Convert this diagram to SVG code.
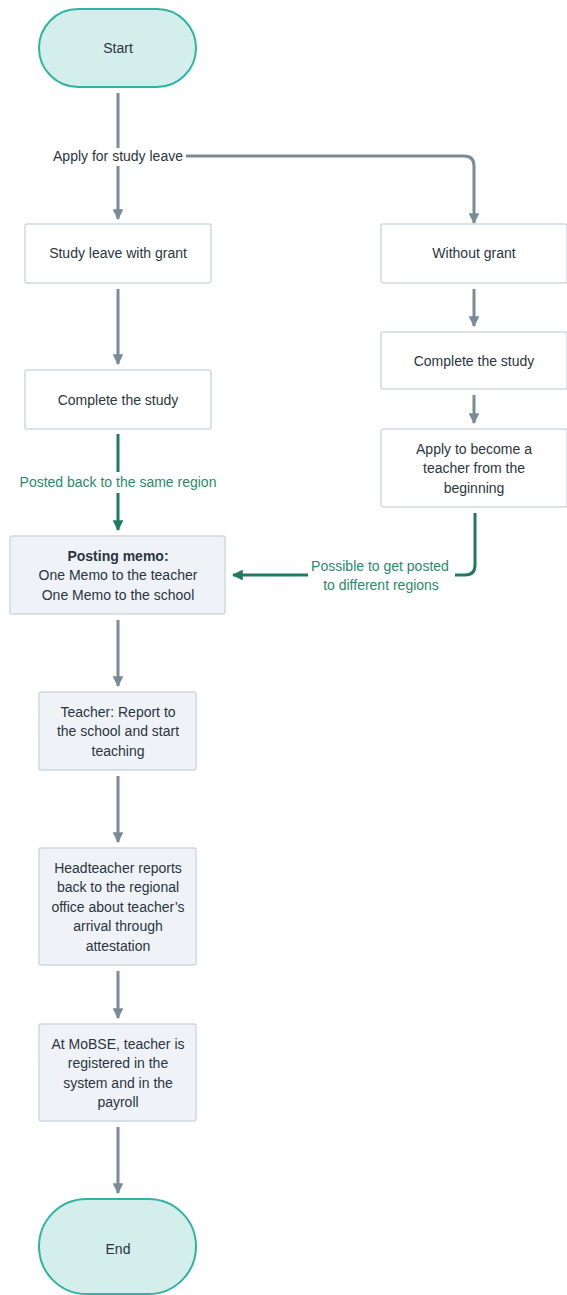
<svg xmlns="http://www.w3.org/2000/svg" width="567" height="1295" viewBox="0 0 567 1295">
  <style>
    text { font-family: "Liberation Sans", Arial, sans-serif; font-size: 14px; fill: #2b3540; text-anchor: middle; }
    .pill { fill: #d3eeeb; stroke: #2fb3a2; stroke-width: 2; }
    .box { fill: #ffffff; stroke: #cfd8e1; stroke-width: 1.5; }
    .gbox { fill: #eff3f7; stroke: #cfd8e1; stroke-width: 1.5; }
    .ln { fill: none; stroke: #7b8a99; stroke-width: 3; }
    .gln { fill: none; stroke: #217a5f; stroke-width: 3; }
    .glbl { fill: #2a8a6b; }
  </style>
  <defs>
    <marker id="ah" viewBox="0 0 10 10" refX="9" refY="5" markerWidth="3.6" markerHeight="3.6" orient="auto" markerUnits="strokeWidth">
      <path d="M0,0 L10,5 L0,10 z" fill="#7b8a99"/>
    </marker>
    <marker id="ahg" viewBox="0 0 10 10" refX="9" refY="5" markerWidth="3.6" markerHeight="3.6" orient="auto" markerUnits="strokeWidth">
      <path d="M0,0 L10,5 L0,10 z" fill="#217a5f"/>
    </marker>
  </defs>

  <!-- connectors -->
  <g id="connectors">
    <path class="ln" d="M118,93 V148"/>
    <path class="ln" d="M118,166 V219" marker-end="url(#ah)"/>
    <path class="ln" d="M186,156 H464 Q474,156 474,166 V223" marker-end="url(#ah)"/>
    <path class="ln" d="M118,289 V364" marker-end="url(#ah)"/>
    <path class="ln" d="M474,289 V326" marker-end="url(#ah)"/>
    <path class="ln" d="M474,395 V423" marker-end="url(#ah)"/>
    <path class="gln" d="M118,434 V472"/>
    <path class="gln" d="M118,493 V530" marker-end="url(#ahg)"/>
    <text class="glbl" x="118" y="487">Posted back to the same region</text>
    <path class="gln" d="M475,513 V565 Q475,575 465,575 H455"/>
    <path class="gln" d="M308,575 H233" marker-end="url(#ahg)"/>
    <text class="glbl" x="380" y="571">Possible to get posted</text>
    <text class="glbl" x="381" y="590">to different regions</text>
    <text x="118" y="161">Apply for study leave</text>
    <path class="ln" d="M118,620 V686" marker-end="url(#ah)"/>
    <path class="ln" d="M118,776 V842" marker-end="url(#ah)"/>
    <path class="ln" d="M118,971 V1018" marker-end="url(#ah)"/>
    <path class="ln" d="M118,1127 V1193" marker-end="url(#ah)"/>
  </g>

  <g id="start">
    <rect class="pill" x="39" y="9" width="157" height="78" rx="39"/>
    <text x="118" y="53">Start</text>
  </g>

  <g id="with-grant">
    <rect class="box" x="25" y="224" width="186" height="59" rx="2"/>
    <text x="118" y="258">Study leave with grant</text>
  </g>

  <g id="without-grant">
    <rect class="box" x="381" y="224" width="186" height="59" rx="2"/>
    <text x="474" y="258">Without grant</text>
  </g>

  <g id="complete-left">
    <rect class="box" x="25" y="370" width="186" height="59" rx="2"/>
    <text x="118" y="405">Complete the study</text>
  </g>

  <g id="complete-right">
    <rect class="box" x="381" y="332" width="186" height="57" rx="2"/>
    <text x="474" y="366">Complete the study</text>
  </g>

  <g id="apply-teacher">
    <rect class="box" x="381" y="429" width="186" height="78" rx="2"/>
    <text x="474" y="454">Apply to become a</text>
    <text x="474" y="473">teacher from the</text>
    <text x="474" y="493">beginning</text>
  </g>

  <g id="posting-memo">
    <rect class="gbox" x="10" y="536" width="215" height="78" rx="2"/>
    <text x="118" y="561" font-weight="bold">Posting memo:</text>
    <text x="118" y="580">One Memo to the teacher</text>
    <text x="118" y="600">One Memo to the school</text>
  </g>

  <g id="report-school">
    <rect class="gbox" x="39" y="692" width="157" height="78" rx="2"/>
    <text x="118" y="717">Teacher: Report to</text>
    <text x="118" y="736">the school and start</text>
    <text x="118" y="756">teaching</text>
  </g>

  <g id="headteacher">
    <rect class="gbox" x="39" y="848" width="157" height="117" rx="2"/>
    <text x="118" y="873">Headteacher reports</text>
    <text x="118" y="892">back to the regional</text>
    <text x="118" y="912">office about teacher’s</text>
    <text x="118" y="931">arrival through</text>
    <text x="118" y="951">attestation</text>
  </g>

  <g id="mobse">
    <rect class="gbox" x="39" y="1024" width="157" height="97" rx="2"/>
    <text x="118" y="1049">At MoBSE, teacher is</text>
    <text x="118" y="1068">registered in the</text>
    <text x="118" y="1088">system and in the</text>
    <text x="118" y="1107">payroll</text>
  </g>

  <g id="end">
    <rect class="pill" x="39" y="1199" width="157" height="95" rx="47.5"/>
    <text x="118" y="1254">End</text>
  </g>
</svg>
